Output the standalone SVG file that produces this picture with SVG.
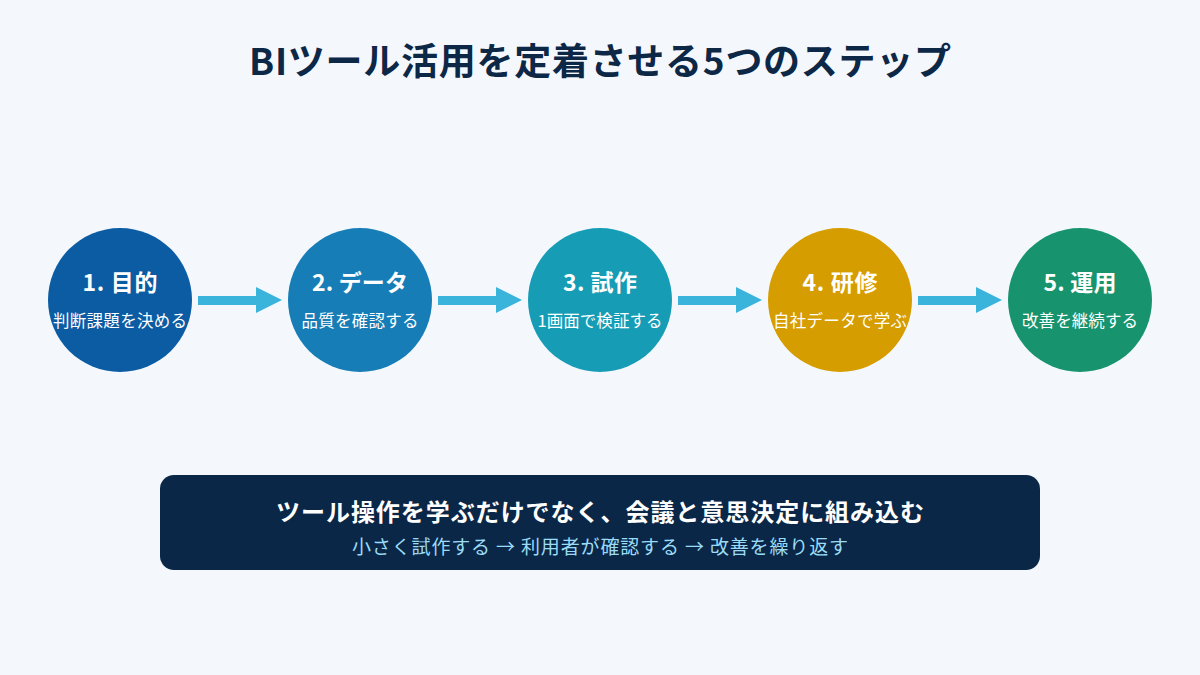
<svg xmlns="http://www.w3.org/2000/svg" width="1200" height="675" viewBox="0 0 1200 675">
<style>
text{font-family:"Noto Sans CJK JP","Noto Sans",sans-serif;text-anchor:middle}
.t{font-size:23px;font-weight:700;fill:#fff}
.s{font-size:16.5px;fill:#fff}
.arrow{fill:#3AB4DA}
</style>
<defs>
<g id="arr"><rect x="0" y="-4" width="60" height="9"/><polygon points="58,-13 84,0 58,13"/></g>
</defs>
<rect width="1200" height="675" fill="#F4F8FC"/>
<text x="600" y="75" font-size="37" font-weight="700" fill="#0D2747" textLength="702">BIツール活用を定着させる5つのステップ</text>
<g id="connectors" class="arrow">
<use href="#arr" x="198" y="300"/>
<use href="#arr" x="438" y="300"/>
<use href="#arr" x="678" y="300"/>
<use href="#arr" x="918" y="300"/>
</g>
<g id="step1"><circle cx="120" cy="300" r="72" fill="#0B5CA3"/><text class="t" x="120" y="291" textLength="75">1. 目的</text><text class="s" x="120" y="327" textLength="134">判断課題を決める</text></g>
<g id="step2"><circle cx="360" cy="300" r="72" fill="#177DB6"/><text class="t" x="360" y="291" textLength="96">2. データ</text><text class="s" x="360" y="327" textLength="117">品質を確認する</text></g>
<g id="step3"><circle cx="600" cy="300" r="72" fill="#169DB5"/><text class="t" x="600" y="291" textLength="74">3. 試作</text><text class="s" x="600" y="327" textLength="125">1画面で検証する</text></g>
<g id="step4"><circle cx="840" cy="300" r="72" fill="#D69D00"/><text class="t" x="840" y="291" textLength="75">4. 研修</text><text class="s" x="840" y="327" textLength="134">自社データで学ぶ</text></g>
<g id="step5"><circle cx="1080" cy="300" r="72" fill="#17946E"/><text class="t" x="1080" y="291" textLength="73">5. 運用</text><text class="s" x="1080" y="327" textLength="116">改善を継続する</text></g>
<g id="summary">
<rect x="160" y="475" width="880" height="95" rx="14" fill="#0B2748"/>
<text x="600" y="521" font-size="24" font-weight="700" fill="#fff" textLength="648">ツール操作を学ぶだけでなく、会議と意思決定に組み込む</text>
<text x="600" y="554" font-size="19" fill="#9ADCF5" textLength="496">小さく試作する → 利用者が確認する → 改善を繰り返す</text>
</g>
</svg>
